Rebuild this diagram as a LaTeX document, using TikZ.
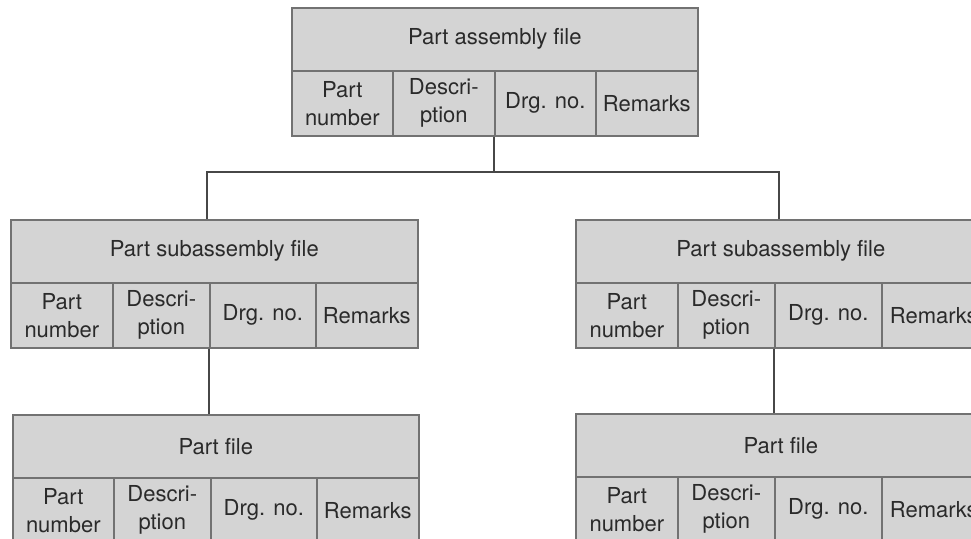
\documentclass[tikz,border=0pt]{standalone}
\usepackage{fontspec}
\setmainfont{TeX Gyre Heros}
\definecolor{cellfill}{HTML}{D4D4D4}
\definecolor{celledge}{HTML}{727272}
\definecolor{inktext}{HTML}{2A2A2A}
\definecolor{linkline}{HTML}{474747}
\tikzset{
  recpart/.style={draw=celledge, fill=cellfill, line width=1.6pt, inner sep=0pt,
    anchor=north west, align=center, text=inktext,
    font=\fontsize{22}{28}\selectfont},
  hdr/.style={recpart, minimum height=63pt},
  cell/.style={recpart, minimum height=65pt},
  link/.style={draw=linkline, line width=1.3pt}
}
% One record: header bar plus four field cells.
% #1 name, #2 left x, #3 top y, #4 title, #5-#7 column dividers, #8 right x
\newcommand{\recbox}[8]{%
  \node[hdr, minimum width={(#8-#2)*1pt}] (#1-h) at (#2,#3) {#4};
  \node[cell, minimum width={(#5-#2)*1pt}] (#1-1) at (#2,#3+63) {Part\\number};
  \node[cell, minimum width={(#6-#5)*1pt}] (#1-2) at (#5,#3+63) {Descri-\\ption};
  \node[cell, minimum width={(#7-#6)*1pt}] (#1-3) at (#6,#3+63) {Drg. no.};
  \node[cell, minimum width={(#8-#7)*1pt}] (#1-4) at (#7,#3+63) {Remarks};
}
\begin{document}
\begin{tikzpicture}[x=1pt,y=-1pt]
  \clip (0,0) rectangle (971,538);
  \fill[white] (0,0) rectangle (971,538);

  % records
  \recbox{asm}{291}{7}{Part assembly file}{392}{494}{595}{697}
  \recbox{subL}{10}{219}{Part subassembly file}{112}{209}{315}{417}
  \recbox{subR}{575}{219}{Part subassembly file}{677}{774}{881}{985}
  \recbox{partL}{12}{414}{Part file}{113}{210}{316}{418}
  \recbox{partR}{575}{413}{Part file}{677}{774}{881}{985}

  % tree connectors
  \coordinate (busL) at (207,172);
  \coordinate (busR) at (779,172);
  \draw[link] (asm-3.south west) -- (asm-3.south west |- busL);
  \draw[link] (subL-h.north -| busL) -- (busL) -- (busR) -- (subR-h.north -| busR);
  \draw[link] (subL-3.south west) -- (partL-h.north -| subL-3.south west);
  \draw[link] (subR-3.south west) -- (partR-h.north -| subR-3.south west);
\end{tikzpicture}
\end{document}
